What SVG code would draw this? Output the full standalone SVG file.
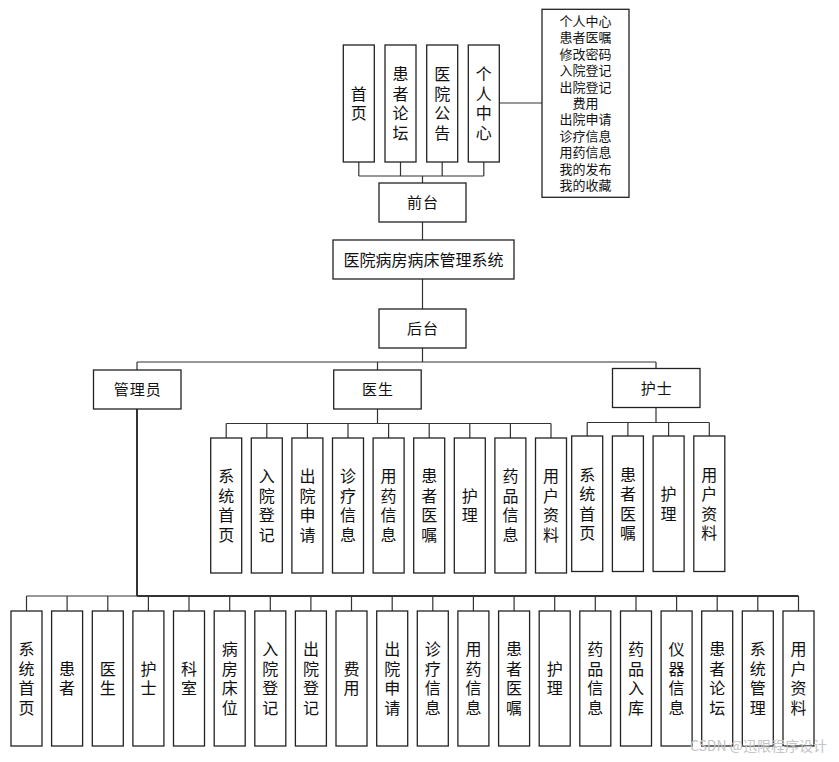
<svg xmlns="http://www.w3.org/2000/svg" width="839" height="762" viewBox="0 0 839 762">
<style>
rect.b{fill:#fff;stroke:#222;stroke-width:1.3}
text{font-family:"Noto Sans CJK SC","Liberation Sans",sans-serif;fill:#111}
.v{font-size:16px;text-anchor:middle}
.h{font-size:15px;text-anchor:middle;letter-spacing:1px}
.t{font-size:16px;text-anchor:middle}
.s{font-size:13px;text-anchor:middle}
#connectors path{fill:none;stroke:#333;stroke-width:1.2}
.wm{font-size:14px;fill:#c4c4c4;text-anchor:end}
</style>
<rect width="839" height="762" fill="#fff"/>
<g id="connectors">
<path d="M358.8,162V176M400.5,162V176M442.2,162V176M483.8,162V176M358.8,176H483.8M422.5,176V183"/>
<path d="M499.3,103H542"/>
<path d="M422.5,222V240M422.5,279V309M422.5,348V362"/>
<path d="M137,362H656M137,362V370M377.5,362V370M656,362V369"/>
<path d="M377.5,409V423.5M226.2,423.5H551M226.2,423.5V438M266.8,423.5V438M307.4,423.5V438M348,423.5V438M388.6,423.5V438M429.2,423.5V438M469.8,423.5V438M510.4,423.5V438M551,423.5V438"/>
<path d="M656,407V422.5M587.2,422.5H709.3M587.2,422.5V436M627.9,422.5V436M668.6,422.5V436M709.3,422.5V436"/>
<path d="M137,409V596" style="stroke-width:2"/>
<path d="M26.5,596H137"/>
<path d="M137,596H798.5" style="stroke-width:2"/>
<path d="M26.5,596V611M67.1,596V611M107.8,596V611M148.4,596V611M189,596V611M229.7,596V611M270.3,596V611M310.9,596V611M351.5,596V611M392.2,596V611M432.8,596V611M473.4,596V611M514.1,596V611M554.7,596V611M595.3,596V611M636,596V611M676.6,596V611M717.2,596V611M757.8,596V611M798.5,596V611"/>
</g>
<g id="n-shouye"><rect class="b" x="343.3" y="45" width="31" height="117"/><text class="v"><tspan x="358.8" y="99.8">首</tspan><tspan x="358.8" y="119.3">页</tspan></text></g>
<g id="n-luntan"><rect class="b" x="385" y="45" width="31" height="117"/><text class="v"><tspan x="400.5" y="80.3">患</tspan><tspan x="400.5" y="99.8">者</tspan><tspan x="400.5" y="119.3">论</tspan><tspan x="400.5" y="138.8">坛</tspan></text></g>
<g id="n-gonggao"><rect class="b" x="426.7" y="45" width="31" height="117"/><text class="v"><tspan x="442.2" y="80.3">医</tspan><tspan x="442.2" y="99.8">院</tspan><tspan x="442.2" y="119.3">公</tspan><tspan x="442.2" y="138.8">告</tspan></text></g>
<g id="n-geren"><rect class="b" x="468.3" y="45" width="31" height="117"/><text class="v"><tspan x="483.8" y="80.3">个</tspan><tspan x="483.8" y="99.8">人</tspan><tspan x="483.8" y="119.3">中</tspan><tspan x="483.8" y="138.8">心</tspan></text></g>
<g id="n-geren-list"><rect class="b" x="542" y="9.3" width="87" height="188"/><text class="s"><tspan x="585.5" y="26">个人中心</tspan><tspan x="585.5" y="42.4">患者医嘱</tspan><tspan x="585.5" y="58.8">修改密码</tspan><tspan x="585.5" y="75.2">入院登记</tspan><tspan x="585.5" y="91.6">出院登记</tspan><tspan x="585.5" y="108">费用</tspan><tspan x="585.5" y="124.4">出院申请</tspan><tspan x="585.5" y="140.8">诊疗信息</tspan><tspan x="585.5" y="157.2">用药信息</tspan><tspan x="585.5" y="173.6">我的发布</tspan><tspan x="585.5" y="190">我的收藏</tspan></text></g>
<g id="n-qiantai"><rect class="b" x="379" y="183" width="87" height="39"/><text class="h" x="423" y="208.2">前台</text></g>
<g id="n-system"><rect class="b" x="333" y="240" width="181" height="39"/><text class="t" x="423.5" y="265.5">医院病房病床管理系统</text></g>
<g id="n-houtai"><rect class="b" x="379" y="309" width="87" height="39"/><text class="h" x="423" y="334.2">后台</text></g>
<g id="n-admin"><rect class="b" x="93.5" y="370" width="87.5" height="39"/><text class="h" x="137.7" y="395.2">管理员</text></g>
<g id="n-doctor"><rect class="b" x="333.7" y="370" width="87.5" height="39"/><text class="h" x="378" y="395.2">医生</text></g>
<g id="n-nurse"><rect class="b" x="612.5" y="368.5" width="87.5" height="39"/><text class="h" x="656.7" y="393.7">护士</text></g>
<!-- doctor row -->
<g id="d1"><rect class="b" x="210.7" y="438" width="31" height="135"/><text class="v"><tspan x="226.2" y="482.3">系</tspan><tspan x="226.2" y="501.8">统</tspan><tspan x="226.2" y="521.3">首</tspan><tspan x="226.2" y="540.8">页</tspan></text></g>
<g id="d2"><rect class="b" x="251.3" y="438" width="31" height="135"/><text class="v"><tspan x="266.8" y="482.3">入</tspan><tspan x="266.8" y="501.8">院</tspan><tspan x="266.8" y="521.3">登</tspan><tspan x="266.8" y="540.8">记</tspan></text></g>
<g id="d3"><rect class="b" x="291.9" y="438" width="31" height="135"/><text class="v"><tspan x="307.4" y="482.3">出</tspan><tspan x="307.4" y="501.8">院</tspan><tspan x="307.4" y="521.3">申</tspan><tspan x="307.4" y="540.8">请</tspan></text></g>
<g id="d4"><rect class="b" x="332.5" y="438" width="31" height="135"/><text class="v"><tspan x="348" y="482.3">诊</tspan><tspan x="348" y="501.8">疗</tspan><tspan x="348" y="521.3">信</tspan><tspan x="348" y="540.8">息</tspan></text></g>
<g id="d5"><rect class="b" x="373.1" y="438" width="31" height="135"/><text class="v"><tspan x="388.6" y="482.3">用</tspan><tspan x="388.6" y="501.8">药</tspan><tspan x="388.6" y="521.3">信</tspan><tspan x="388.6" y="540.8">息</tspan></text></g>
<g id="d6"><rect class="b" x="413.7" y="438" width="31" height="135"/><text class="v"><tspan x="429.2" y="482.3">患</tspan><tspan x="429.2" y="501.8">者</tspan><tspan x="429.2" y="521.3">医</tspan><tspan x="429.2" y="540.8">嘱</tspan></text></g>
<g id="d7"><rect class="b" x="454.3" y="438" width="31" height="135"/><text class="v"><tspan x="469.8" y="501.8">护</tspan><tspan x="469.8" y="521.3">理</tspan></text></g>
<g id="d8"><rect class="b" x="494.9" y="438" width="31" height="135"/><text class="v"><tspan x="510.4" y="482.3">药</tspan><tspan x="510.4" y="501.8">品</tspan><tspan x="510.4" y="521.3">信</tspan><tspan x="510.4" y="540.8">息</tspan></text></g>
<g id="d9"><rect class="b" x="535.5" y="438" width="31" height="135"/><text class="v"><tspan x="551" y="482.3">用</tspan><tspan x="551" y="501.8">户</tspan><tspan x="551" y="521.3">资</tspan><tspan x="551" y="540.8">料</tspan></text></g>
<!-- nurse row -->
<g id="u1"><rect class="b" x="571.7" y="436" width="31" height="135.5"/><text class="v"><tspan x="587.2" y="480.5">系</tspan><tspan x="587.2" y="500">统</tspan><tspan x="587.2" y="519.5">首</tspan><tspan x="587.2" y="539">页</tspan></text></g>
<g id="u2"><rect class="b" x="612.4" y="436" width="31" height="135.5"/><text class="v"><tspan x="627.9" y="480.5">患</tspan><tspan x="627.9" y="500">者</tspan><tspan x="627.9" y="519.5">医</tspan><tspan x="627.9" y="539">嘱</tspan></text></g>
<g id="u3"><rect class="b" x="653.1" y="436" width="31" height="135.5"/><text class="v"><tspan x="668.6" y="500">护</tspan><tspan x="668.6" y="519.5">理</tspan></text></g>
<g id="u4"><rect class="b" x="693.8" y="436" width="31" height="135.5"/><text class="v"><tspan x="709.3" y="480.5">用</tspan><tspan x="709.3" y="500">户</tspan><tspan x="709.3" y="519.5">资</tspan><tspan x="709.3" y="539">料</tspan></text></g>
<!-- admin row -->
<g id="a1"><rect class="b" x="11" y="611" width="31" height="135"/><text class="v"><tspan x="26.5" y="655.3">系</tspan><tspan x="26.5" y="674.8">统</tspan><tspan x="26.5" y="694.3">首</tspan><tspan x="26.5" y="713.8">页</tspan></text></g>
<g id="a2"><rect class="b" x="51.6" y="611" width="31" height="135"/><text class="v"><tspan x="67.1" y="674.8">患</tspan><tspan x="67.1" y="694.3">者</tspan></text></g>
<g id="a3"><rect class="b" x="92.3" y="611" width="31" height="135"/><text class="v"><tspan x="107.8" y="674.8">医</tspan><tspan x="107.8" y="694.3">生</tspan></text></g>
<g id="a4"><rect class="b" x="132.9" y="611" width="31" height="135"/><text class="v"><tspan x="148.4" y="674.8">护</tspan><tspan x="148.4" y="694.3">士</tspan></text></g>
<g id="a5"><rect class="b" x="173.5" y="611" width="31" height="135"/><text class="v"><tspan x="189" y="674.8">科</tspan><tspan x="189" y="694.3">室</tspan></text></g>
<g id="a6"><rect class="b" x="214.2" y="611" width="31" height="135"/><text class="v"><tspan x="229.7" y="655.3">病</tspan><tspan x="229.7" y="674.8">房</tspan><tspan x="229.7" y="694.3">床</tspan><tspan x="229.7" y="713.8">位</tspan></text></g>
<g id="a7"><rect class="b" x="254.8" y="611" width="31" height="135"/><text class="v"><tspan x="270.3" y="655.3">入</tspan><tspan x="270.3" y="674.8">院</tspan><tspan x="270.3" y="694.3">登</tspan><tspan x="270.3" y="713.8">记</tspan></text></g>
<g id="a8"><rect class="b" x="295.4" y="611" width="31" height="135"/><text class="v"><tspan x="310.9" y="655.3">出</tspan><tspan x="310.9" y="674.8">院</tspan><tspan x="310.9" y="694.3">登</tspan><tspan x="310.9" y="713.8">记</tspan></text></g>
<g id="a9"><rect class="b" x="336" y="611" width="31" height="135"/><text class="v"><tspan x="351.5" y="674.8">费</tspan><tspan x="351.5" y="694.3">用</tspan></text></g>
<g id="a10"><rect class="b" x="376.7" y="611" width="31" height="135"/><text class="v"><tspan x="392.2" y="655.3">出</tspan><tspan x="392.2" y="674.8">院</tspan><tspan x="392.2" y="694.3">申</tspan><tspan x="392.2" y="713.8">请</tspan></text></g>
<g id="a11"><rect class="b" x="417.3" y="611" width="31" height="135"/><text class="v"><tspan x="432.8" y="655.3">诊</tspan><tspan x="432.8" y="674.8">疗</tspan><tspan x="432.8" y="694.3">信</tspan><tspan x="432.8" y="713.8">息</tspan></text></g>
<g id="a12"><rect class="b" x="457.9" y="611" width="31" height="135"/><text class="v"><tspan x="473.4" y="655.3">用</tspan><tspan x="473.4" y="674.8">药</tspan><tspan x="473.4" y="694.3">信</tspan><tspan x="473.4" y="713.8">息</tspan></text></g>
<g id="a13"><rect class="b" x="498.6" y="611" width="31" height="135"/><text class="v"><tspan x="514.1" y="655.3">患</tspan><tspan x="514.1" y="674.8">者</tspan><tspan x="514.1" y="694.3">医</tspan><tspan x="514.1" y="713.8">嘱</tspan></text></g>
<g id="a14"><rect class="b" x="539.2" y="611" width="31" height="135"/><text class="v"><tspan x="554.7" y="674.8">护</tspan><tspan x="554.7" y="694.3">理</tspan></text></g>
<g id="a15"><rect class="b" x="579.8" y="611" width="31" height="135"/><text class="v"><tspan x="595.3" y="655.3">药</tspan><tspan x="595.3" y="674.8">品</tspan><tspan x="595.3" y="694.3">信</tspan><tspan x="595.3" y="713.8">息</tspan></text></g>
<g id="a16"><rect class="b" x="620.5" y="611" width="31" height="135"/><text class="v"><tspan x="636" y="655.3">药</tspan><tspan x="636" y="674.8">品</tspan><tspan x="636" y="694.3">入</tspan><tspan x="636" y="713.8">库</tspan></text></g>
<g id="a17"><rect class="b" x="661.1" y="611" width="31" height="135"/><text class="v"><tspan x="676.6" y="655.3">仪</tspan><tspan x="676.6" y="674.8">器</tspan><tspan x="676.6" y="694.3">信</tspan><tspan x="676.6" y="713.8">息</tspan></text></g>
<g id="a18"><rect class="b" x="701.7" y="611" width="31" height="135"/><text class="v"><tspan x="717.2" y="655.3">患</tspan><tspan x="717.2" y="674.8">者</tspan><tspan x="717.2" y="694.3">论</tspan><tspan x="717.2" y="713.8">坛</tspan></text></g>
<g id="a19"><rect class="b" x="742.3" y="611" width="31" height="135"/><text class="v"><tspan x="757.8" y="655.3">系</tspan><tspan x="757.8" y="674.8">统</tspan><tspan x="757.8" y="694.3">管</tspan><tspan x="757.8" y="713.8">理</tspan></text></g>
<g id="a20"><rect class="b" x="783" y="611" width="31" height="135"/><text class="v"><tspan x="798.5" y="655.3">用</tspan><tspan x="798.5" y="674.8">户</tspan><tspan x="798.5" y="694.3">资</tspan><tspan x="798.5" y="713.8">料</tspan></text></g>
<text class="wm" x="827" y="751">CSDN @迅限程序设计</text>
</svg>
